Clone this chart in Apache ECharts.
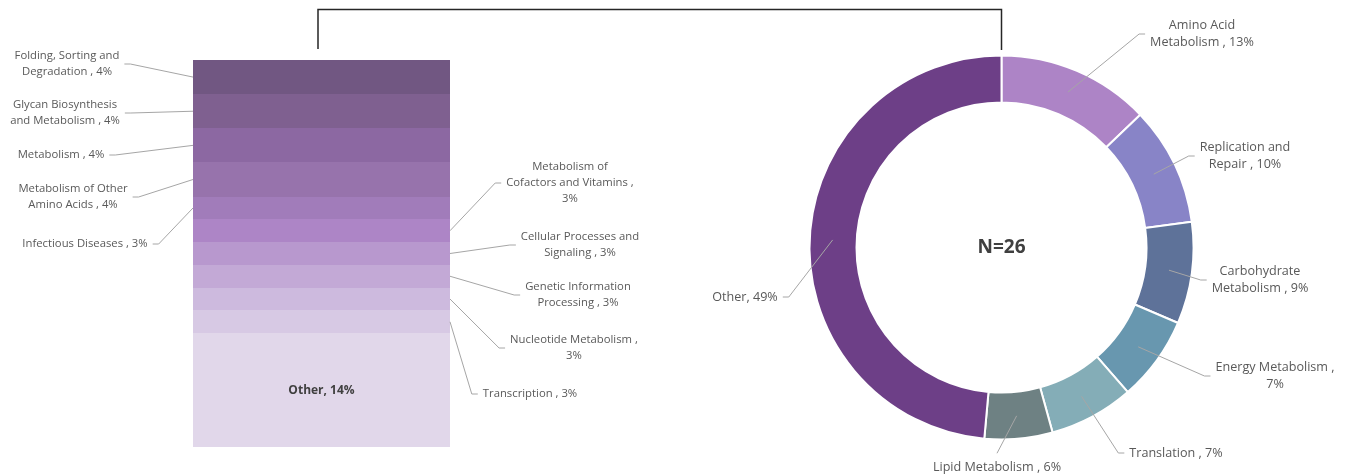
<!DOCTYPE html>
<html>
<head>
<meta charset="utf-8">
<script src="https://cdn.jsdelivr.net/npm/echarts@6/dist/echarts.min.js"></script>
<style>
  html, body { margin: 0; padding: 0; background: #fff; }
  #chart { width: 1350px; height: 476px; }
</style>
</head>
<body>
<div id="chart"></div>
<script>
// ---- data: gene counts per functional category ----
const pieNames = ['Amino Acid\nMetabolism', 'Replication and\nRepair', 'Carbohydrate\nMetabolism',
  'Energy Metabolism', 'Translation', 'Lipid Metabolism', 'Other'];
const pieCounts = [9, 7, 6, 5, 5, 4, 34];

// breakdown of "Other", listed top to bottom
const barNames = ['Folding, Sorting and\nDegradation', 'Glycan Biosynthesis\nand Metabolism', 'Metabolism',
  'Metabolism of Other\nAmino Acids', 'Infectious Diseases', 'Metabolism of\nCofactors and Vitamins',
  'Cellular Processes and\nSignaling', 'Genetic Information\nProcessing', 'Nucleotide Metabolism',
  'Transcription', 'Other'];
const barCounts = [3, 3, 3, 3, 2, 2, 2, 2, 2, 2, 10];

const centerText = 'N=26';

// ---- styles ----
const pieColors = ['#AD84C6', '#8884C7', '#5E7299', '#6897AF', '#84ADB7', '#6E8183', '#6D3F87'];
const barColors = ['#715782', '#7F6090', '#8C68A2', '#9773AC', '#A17CBA', '#AD85C6',
  '#B898CE', '#C3A9D6', '#CDBADE', '#D7C9E4', '#E1D7EA'];
const pieSeps = [' , ', ' , ', ' , ', ' ,\n', ' , ', ' , ', ', '];
const barSeps = [' , ', ' , ', ' , ', ' , ', ' , ', ' ,\n', ' , ', ' , ', ' ,\n', ' , ', ', '];

const FONT = '"Open Sans", "Noto Sans", sans-serif';
const TEXT_COLOR = '#595959';
const LINE_COLOR = '#A6A6A6';
const BAR_FS = 11.3, BAR_LH = 16;
const PIE_FS = 12.6, PIE_LH = 17.5;
const GAP = 5, HOOK = 6;

const PIE_CENTER = [1001.5, 247.5];

// label block centres; `side` is the edge of the label the leader line meets
const pieLabelSpots = [
  { x: 1202, y: 34, side: 'left' },
  { x: 1245, y: 156, side: 'left' },
  { x: 1260, y: 280, side: 'left' },
  { x: 1275, y: 376, side: 'left' },
  { x: 1176, y: 453, side: 'left' },
  { x: 997, y: 467, side: 'top' },
  { x: 745, y: 297, side: 'right' }
];
const barLabelSpots = [
  { x: 67, y: 64, side: 'right' },
  { x: 65, y: 113, side: 'right' },
  { x: 61, y: 155, side: 'right' },
  { x: 73, y: 197, side: 'right' },
  { x: 85, y: 244, side: 'right' },
  { x: 570, y: 183, side: 'left' },
  { x: 580, y: 245, side: 'left' },
  { x: 578, y: 295, side: 'left' },
  { x: 574, y: 348, side: 'left' },
  { x: 530, y: 394, side: 'left' },
  { side: 'inside' }
];

const pieTotal = pieCounts.reduce((a, b) => a + b, 0);
const barTotal = barCounts.reduce((a, b) => a + b, 0);
const pct = v => Math.round(v / pieTotal * 100);

// stacked segments, drawn bottom-up: [category, start, end, index]
const barData = barCounts.map((v, i) => {
  const base = barCounts.slice(i + 1).reduce((a, b) => a + b, 0);
  return [0, base, base + v, i];
});

const measureCtx = document.createElement('canvas').getContext('2d');
function measure(text, fs, lh) {
  measureCtx.font = fs + 'px ' + FONT;
  const lines = text.split('\n');
  let w = 0;
  lines.forEach(l => { w = Math.max(w, measureCtx.measureText(l).width); });
  return { w: w, h: lines.length * lh };
}

function leader(anchor, s, w, h) {
  if (s.side === 'top') {
    const end = [s.x, s.y - h / 2 - GAP];
    return [anchor, end, end];
  }
  const dir = s.side === 'left' ? -1 : 1;
  const end = [s.x + dir * (w / 2 + GAP), s.y];
  const bend = [end[0] + dir * HOOK, s.y];
  return [anchor, bend, end];
}

function renderBar(params, api) {
  const i = api.value(3);
  const lo = api.coord([0, api.value(1)]);
  const hi = api.coord([0, api.value(2)]);
  const w = api.size([1, 0])[0];
  const x0 = lo[0] - w / 2;
  // snap segment edges to whole pixels so neighbouring blocks meet without seams
  const yTop = Math.round(hi[1]);
  const yBot = Math.round(lo[1]);
  const midY = (lo[1] + hi[1]) / 2;
  const children = [{
    type: 'rect',
    shape: { x: Math.round(x0), y: yTop, width: Math.round(w), height: yBot - yTop },
    style: { fill: barColors[i] }
  }];
  const text = barNames[i] + barSeps[i] + pct(barCounts[i]) + '%';
  const s = barLabelSpots[i];
  if (s.side === 'inside') {
    children.push({
      type: 'text',
      style: { text: text, x: lo[0], y: midY, align: 'center', verticalAlign: 'middle',
        fill: '#404040', fontSize: 12, fontWeight: 'bold', fontFamily: FONT }
    });
  } else {
    const size = measure(text, BAR_FS, BAR_LH);
    const anchor = s.side === 'right' ? [x0, midY] : [x0 + w, midY];
    children.push({
      type: 'polyline',
      shape: { points: leader(anchor, s, size.w, size.h) },
      style: { stroke: LINE_COLOR, lineWidth: 1, fill: null }
    });
    children.push({
      type: 'text',
      style: { text: text, x: s.x, y: s.y, align: 'center', verticalAlign: 'middle',
        fill: TEXT_COLOR, fontSize: BAR_FS, fontFamily: FONT, lineHeight: BAR_LH }
    });
  }
  return { type: 'group', children: children };
}

const pieData = pieNames.map((n, i) => ({ name: n, value: pieCounts[i], itemStyle: { color: pieColors[i] } }));

const chart = echarts.init(document.getElementById('chart'), null, { renderer: 'canvas' });
chart.setOption({
  animation: false,
  backgroundColor: '#ffffff',
  grid: { left: 193, top: 60, width: 257, height: 387 },
  xAxis: { type: 'category', data: [''], show: false },
  yAxis: { type: 'value', min: 0, max: barTotal, show: false },
  series: [
    {
      type: 'custom',
      renderItem: renderBar,
      data: barData,
      encode: { x: 0, y: [1, 2] },
      clip: false,
      silent: true
    },
    {
      type: 'pie',
      center: PIE_CENTER,
      radius: [145, 192],
      startAngle: 90,
      clockwise: true,
      silent: true,
      label: { show: false },
      labelLine: { show: false },
      itemStyle: { borderColor: '#ffffff', borderWidth: 2 },
      data: pieData
    },
    {
      // transparent companion ring carrying the labels, so leaders start mid-band
      type: 'pie',
      center: PIE_CENTER,
      radius: [0, 169],
      startAngle: 90,
      clockwise: true,
      silent: true,
      z: 3,
      avoidLabelOverlap: false,
      itemStyle: { color: 'rgba(0,0,0,0)' },
      label: {
        show: true,
        position: 'outside',
        color: TEXT_COLOR,
        fontFamily: FONT,
        fontSize: PIE_FS,
        lineHeight: PIE_LH,
        align: 'center',
        formatter: p => p.name + pieSeps[p.dataIndex] + Math.round(p.percent) + '%'
      },
      labelLine: { show: true, length: 10, length2: 10, lineStyle: { color: LINE_COLOR, width: 1 } },
      labelLayout: function (p) {
        const s = pieLabelSpots[p.dataIndex];
        const anchor = p.labelLinePoints ? p.labelLinePoints[0] : [s.x, s.y];
        return {
          x: s.x, y: s.y, align: 'center', verticalAlign: 'middle',
          labelLinePoints: leader(anchor, s, p.labelRect.width, p.labelRect.height)
        };
      },
      data: pieNames.map((n, i) => ({ name: n, value: pieCounts[i] }))
    }
  ],
  graphic: [
    {
      type: 'text',
      x: PIE_CENTER[0], y: PIE_CENTER[1],
      style: { text: centerText, align: 'center', verticalAlign: 'middle',
        fill: '#404040', fontSize: 19, fontWeight: 'bold', fontFamily: FONT }
    },
    {
      type: 'polyline',
      shape: { points: [[318, 49], [318, 9.5], [PIE_CENTER[0], 9.5], [PIE_CENTER[0], 50]] },
      style: { stroke: '#262626', lineWidth: 1.5, fill: null }
    }
  ]
});
</script>
</body>
</html>
